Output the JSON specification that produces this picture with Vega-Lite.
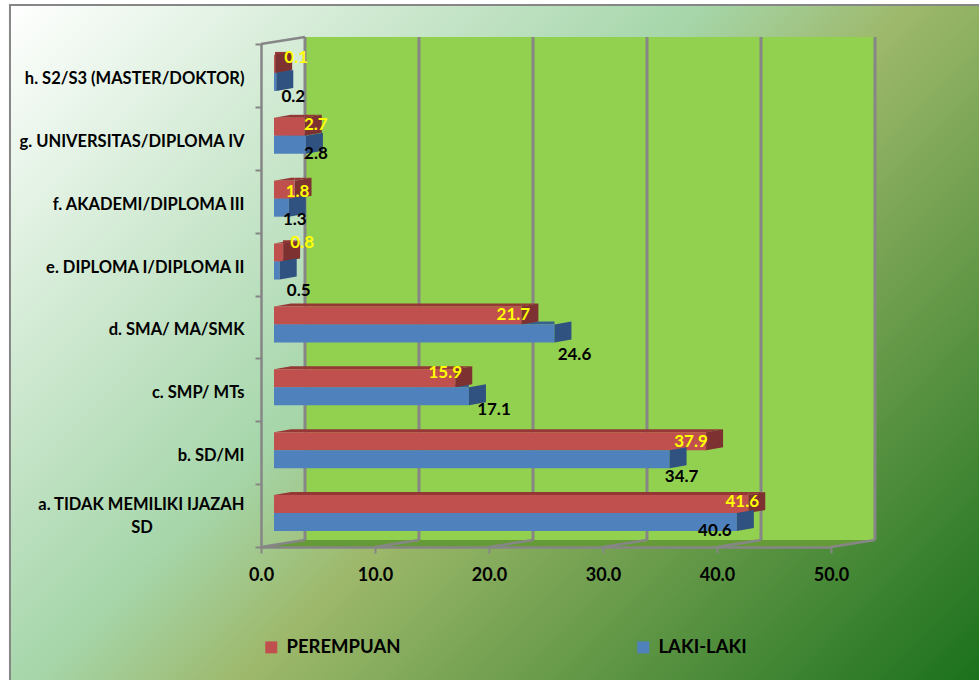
{
"$schema":"https://vega.github.io/schema/vega-lite/v6.json",
"width":570,"height":503,
"autosize":{"type":"none"},
"padding":{"left":261,"top":44,"right":148,"bottom":133},
"background":"#ffffff",
"config":{"view":{"stroke":null},"font":"Lato","text":{"font":"Lato","fontWeight":"bold","fontSize":17}},
"datasets":{
"bars":[
{"cat":"a. TIDAK MEMILIKI IJAZAH SD","series":"PEREMPUAN","value":41.6},
{"cat":"a. TIDAK MEMILIKI IJAZAH SD","series":"LAKI-LAKI","value":40.6},
{"cat":"b. SD/MI","series":"PEREMPUAN","value":37.9},
{"cat":"b. SD/MI","series":"LAKI-LAKI","value":34.7},
{"cat":"c. SMP/ MTs","series":"PEREMPUAN","value":15.9},
{"cat":"c. SMP/ MTs","series":"LAKI-LAKI","value":17.1},
{"cat":"d. SMA/ MA/SMK","series":"PEREMPUAN","value":21.7},
{"cat":"d. SMA/ MA/SMK","series":"LAKI-LAKI","value":24.6},
{"cat":"e.  DIPLOMA I/DIPLOMA II","series":"PEREMPUAN","value":0.8},
{"cat":"e.  DIPLOMA I/DIPLOMA II","series":"LAKI-LAKI","value":0.5},
{"cat":"f. AKADEMI/DIPLOMA III","series":"PEREMPUAN","value":1.8},
{"cat":"f. AKADEMI/DIPLOMA III","series":"LAKI-LAKI","value":1.3},
{"cat":"g. UNIVERSITAS/DIPLOMA IV","series":"PEREMPUAN","value":2.7},
{"cat":"g. UNIVERSITAS/DIPLOMA IV","series":"LAKI-LAKI","value":2.8},
{"cat":"h. S2/S3 (MASTER/DOKTOR)","series":"PEREMPUAN","value":0.1},
{"cat":"h. S2/S3 (MASTER/DOKTOR)","series":"LAKI-LAKI","value":0.2}
],
"ticks":[{"tick":0},{"tick":10},{"tick":20},{"tick":30},{"tick":40},{"tick":50}],
"floor":[{"depth":0,"from":0,"to":50},{"depth":0.111,"from":3.86,"to":53.86}],
"one":[{"panel":1}]
},
"resolve":{"scale":{"y":"independent"}},
"layer":[
{"layer":[
 {"data":{"name":"one"},"mark":{"type":"rect","fill":{"gradient":"linear","x1":0,"y1":0,"x2":1.142,"y2":0.796,"stops":[{"offset":0,"color":"#ffffff"},{"offset":0.42,"color":"#a6d6aa"},{"offset":0.55,"color":"#9db86a"},{"offset":1,"color":"#1a701c"}]},"stroke":"#868686","strokeWidth":2},
  "encoding":{"x":{"datum":-22.02,"type":"quantitative","scale":{"domain":[0,50],"nice":false},"axis":{"zindex":1,"values":[0,10,20,30,40,50],"format":".1f","title":null,"grid":false,"labelFlush":false,"labelBound":false,"labelOverlap":false,"domainColor":"#868686","domainWidth":2.5,"tickColor":"#868686","tickWidth":2,"tickSize":6,"labelPadding":13,"labelFont":"Lato","labelFontWeight":"bold","labelFontSize":18,"labelColor":"#000000"}},"x2":{"datum":63.1},"y":{"datum":8.62,"type":"quantitative","scale":{"domain":[0,8],"nice":false,"zero":false},"axis":null},"y2":{"datum":-2.2}}},
 {"data":{"name":"one"},"mark":{"type":"rect","fill":"#92d050","xOffset":44,"x2Offset":44,"yOffset":-7,"y2Offset":-7},
  "encoding":{"x":{"datum":0,"type":"quantitative"},"x2":{"datum":50},"y":{"datum":8,"type":"quantitative","axis":null},"y2":{"datum":0}}},
 {"data":{"name":"floor"},"mark":{"type":"area","orient":"horizontal","fill":"#669a38"},
  "encoding":{"y":{"field":"depth","type":"quantitative","axis":null},"x":{"field":"from","type":"quantitative"},"x2":{"field":"to"}}},
 {"data":{"name":"ticks"},"mark":{"type":"rule","color":"#868686","strokeWidth":3,"xOffset":44,"yOffset":-7,"y2Offset":-7},
  "encoding":{"x":{"field":"tick","type":"quantitative"},"y":{"datum":8,"type":"quantitative","axis":null},"y2":{"datum":0}}},
 {"data":{"name":"ticks"},"mark":{"type":"rule","color":"#868686","strokeWidth":2.5,"x2Offset":44,"y2Offset":-7},
  "encoding":{"x":{"field":"tick","type":"quantitative"},"x2":{"field":"tick"},"y":{"datum":0,"type":"quantitative","axis":null},"y2":{"datum":0}}},
 {"data":{"name":"one"},"mark":{"type":"rule","color":"#868686","strokeWidth":2.5,"x2Offset":44,"y2Offset":-7},
  "encoding":{"x":{"datum":0,"type":"quantitative"},"x2":{"datum":0},"y":{"datum":8,"type":"quantitative","axis":null},"y2":{"datum":8}}}
]},
{"data":{"name":"bars"},
 "encoding":{
  "y":{"field":"cat","type":"nominal","title":null,"sort":["h. S2/S3 (MASTER/DOKTOR)","g. UNIVERSITAS/DIPLOMA IV","f. AKADEMI/DIPLOMA III","e.  DIPLOMA I/DIPLOMA II","d. SMA/ MA/SMK","c. SMP/ MTs","b. SD/MI","a. TIDAK MEMILIKI IJAZAH SD"],
   "scale":{"paddingInner":0,"paddingOuter":0},
   "axis":{"zindex":1,"tickBand":"extent","domainColor":"#868686","domainWidth":2.5,"tickColor":"#868686","tickWidth":2,"tickSize":6,"labelPadding":11,"labelFont":"Lato","labelFontWeight":"bold","labelFontSize":16.5,"labelColor":"#000000","labelLimit":300,
    "labelExpr":"datum.label == 'a. TIDAK MEMILIKI IJAZAH SD' ? 'a. TIDAK MEMILIKI IJAZAH' : datum.label",
    "labelOffset":{"condition":{"test":"datum.value == 'a. TIDAK MEMILIKI IJAZAH SD'","value":-11},"value":3}}}
 },
 "layer":[
  {"transform":[{"filter":"datum.series == 'LAKI-LAKI'"}],"mark":{"type":"bar","height":3,"yOffset":-4,"xOffset":13,"x2Offset":30,"color":"#38618f"},
   "encoding":{"x":{"field":"value","type":"quantitative"},"x2":{"datum":0}}},
  {"transform":[{"filter":"datum.series == 'LAKI-LAKI'"}],"mark":{"type":"point","filled":true,"fill":"#38618f","stroke":null,"opacity":1,"size":4,"xOffset":13,"shape":"M0,-2.5L17,-5.5L17,-2.5Z"},
   "encoding":{"x":{"datum":0,"type":"quantitative"}}},
  {"transform":[{"filter":"datum.series == 'PEREMPUAN'"}],"mark":{"type":"bar","height":3,"yOffset":-22,"xOffset":13,"x2Offset":30,"color":"#953735"},
   "encoding":{"x":{"field":"value","type":"quantitative"},"x2":{"datum":0}}},
  {"transform":[{"filter":"datum.series == 'PEREMPUAN'"}],"mark":{"type":"point","filled":true,"fill":"#953735","stroke":null,"opacity":1,"size":4,"xOffset":13,"shape":"M0,-20.5L17,-23.5L17,-20.5Z"},
   "encoding":{"x":{"datum":0,"type":"quantitative"}}},
  {"transform":[{"filter":"datum.series == 'PEREMPUAN'"}],"mark":{"type":"point","filled":true,"fill":"#953735","stroke":null,"opacity":1,"size":4,"xOffset":13,"shape":"M0,-20.5L17,-23.5L0,-23.5Z"},
   "encoding":{"x":{"field":"value","type":"quantitative"}}},
  {"transform":[{"filter":"datum.series == 'PEREMPUAN'"}],"mark":{"type":"point","filled":true,"fill":"#7d3231","stroke":null,"opacity":1,"size":4,"xOffset":13,"shape":"M0,-20.5L17,-23.5L17,-5.5L0,-2.5Z"},
   "encoding":{"x":{"field":"value","type":"quantitative"}}},
  {"transform":[{"filter":"datum.series == 'PEREMPUAN'"}],"mark":{"type":"bar","height":18,"yOffset":-11.5,"xOffset":13,"x2Offset":13},
   "encoding":{"x":{"field":"value","type":"quantitative"},"x2":{"datum":0},
    "color":{"field":"series","type":"nominal","title":null,"scale":{"domain":["PEREMPUAN","LAKI-LAKI"],"range":["#c0504d","#4f81bd"]},
     "legend":{"orient":"none","legendX":1,"legendY":594,"direction":"horizontal","columns":2,"columnPadding":233,"padding":0,"symbolType":"square","symbolSize":144,"symbolStrokeWidth":0,"labelFont":"Lato","labelFontWeight":"bold","labelFontSize":18.5,"labelColor":"#000000","labelOffset":6,"title":null}}}},
  {"transform":[{"filter":"datum.series == 'LAKI-LAKI'"}],"mark":{"type":"bar","height":18,"yOffset":6.5,"xOffset":13,"x2Offset":13},
   "encoding":{"x":{"field":"value","type":"quantitative"},"x2":{"datum":0},"color":{"field":"series","type":"nominal"}}},
  {"transform":[{"filter":"datum.series == 'LAKI-LAKI'"}],"mark":{"type":"point","filled":true,"fill":"#2f5280","stroke":null,"opacity":1,"size":4,"xOffset":13,"shape":"M0,-2.5L17,-5.5L17,12.5L0,15.5Z"},
   "encoding":{"x":{"field":"value","type":"quantitative"}}},
  {"transform":[{"filter":"datum.cat == 'a. TIDAK MEMILIKI IJAZAH SD' && datum.series == 'PEREMPUAN'"}],"mark":{"type":"text","fontSize":16.5,"color":"#000000","dy":12.5,"align":"center"},
   "encoding":{"x":{"datum":-10.44,"type":"quantitative"},"text":{"value":"SD"}}},
  {"layer":[
   {"transform":[{"filter":"datum.value == 41.6"}],"mark":{"type":"text","dx":-6,"dy":-13.6}},
   {"transform":[{"filter":"datum.value == 37.9"}],"mark":{"type":"text","dx":-15,"dy":-11}},
   {"transform":[{"filter":"datum.value == 15.9"}],"mark":{"type":"text","dx":-10,"dy":-17}},
   {"transform":[{"filter":"datum.value == 21.7"}],"mark":{"type":"text","dx":-8,"dy":-12}},
   {"transform":[{"filter":"datum.value == 0.8"}],"mark":{"type":"text","dx":19,"dy":-21}},
   {"transform":[{"filter":"datum.value == 1.8"}],"mark":{"type":"text","dx":3,"dy":-9}},
   {"transform":[{"filter":"datum.value == 2.7"}],"mark":{"type":"text","dx":11,"dy":-13}},
   {"transform":[{"filter":"datum.value == 0.1"}],"mark":{"type":"text","dx":21,"dy":-17}},
   {"transform":[{"filter":"datum.value == 40.6"}],"mark":{"type":"text","dx":-22,"dy":15}},
   {"transform":[{"filter":"datum.value == 34.7"}],"mark":{"type":"text","dx":12,"dy":24}},
   {"transform":[{"filter":"datum.value == 17.1"}],"mark":{"type":"text","dx":25,"dy":20}},
   {"transform":[{"filter":"datum.value == 24.6"}],"mark":{"type":"text","dx":20,"dy":28}},
   {"transform":[{"filter":"datum.value == 0.5"}],"mark":{"type":"text","dx":19,"dy":27}},
   {"transform":[{"filter":"datum.value == 1.3"}],"mark":{"type":"text","dx":6,"dy":19}},
   {"transform":[{"filter":"datum.value == 2.8"}],"mark":{"type":"text","dx":10,"dy":15.6}},
   {"transform":[{"filter":"datum.value == 0.2"}],"mark":{"type":"text","dx":17,"dy":22}}
  ],
  "encoding":{"x":{"field":"value","type":"quantitative"},"text":{"field":"value","type":"quantitative","format":".1f"},
   "color":{"condition":{"test":"datum.series == 'PEREMPUAN'","value":"#ffff00"},"value":"#000000"},
   "xOffset":{"value":13}}}
 ]}
]
}
